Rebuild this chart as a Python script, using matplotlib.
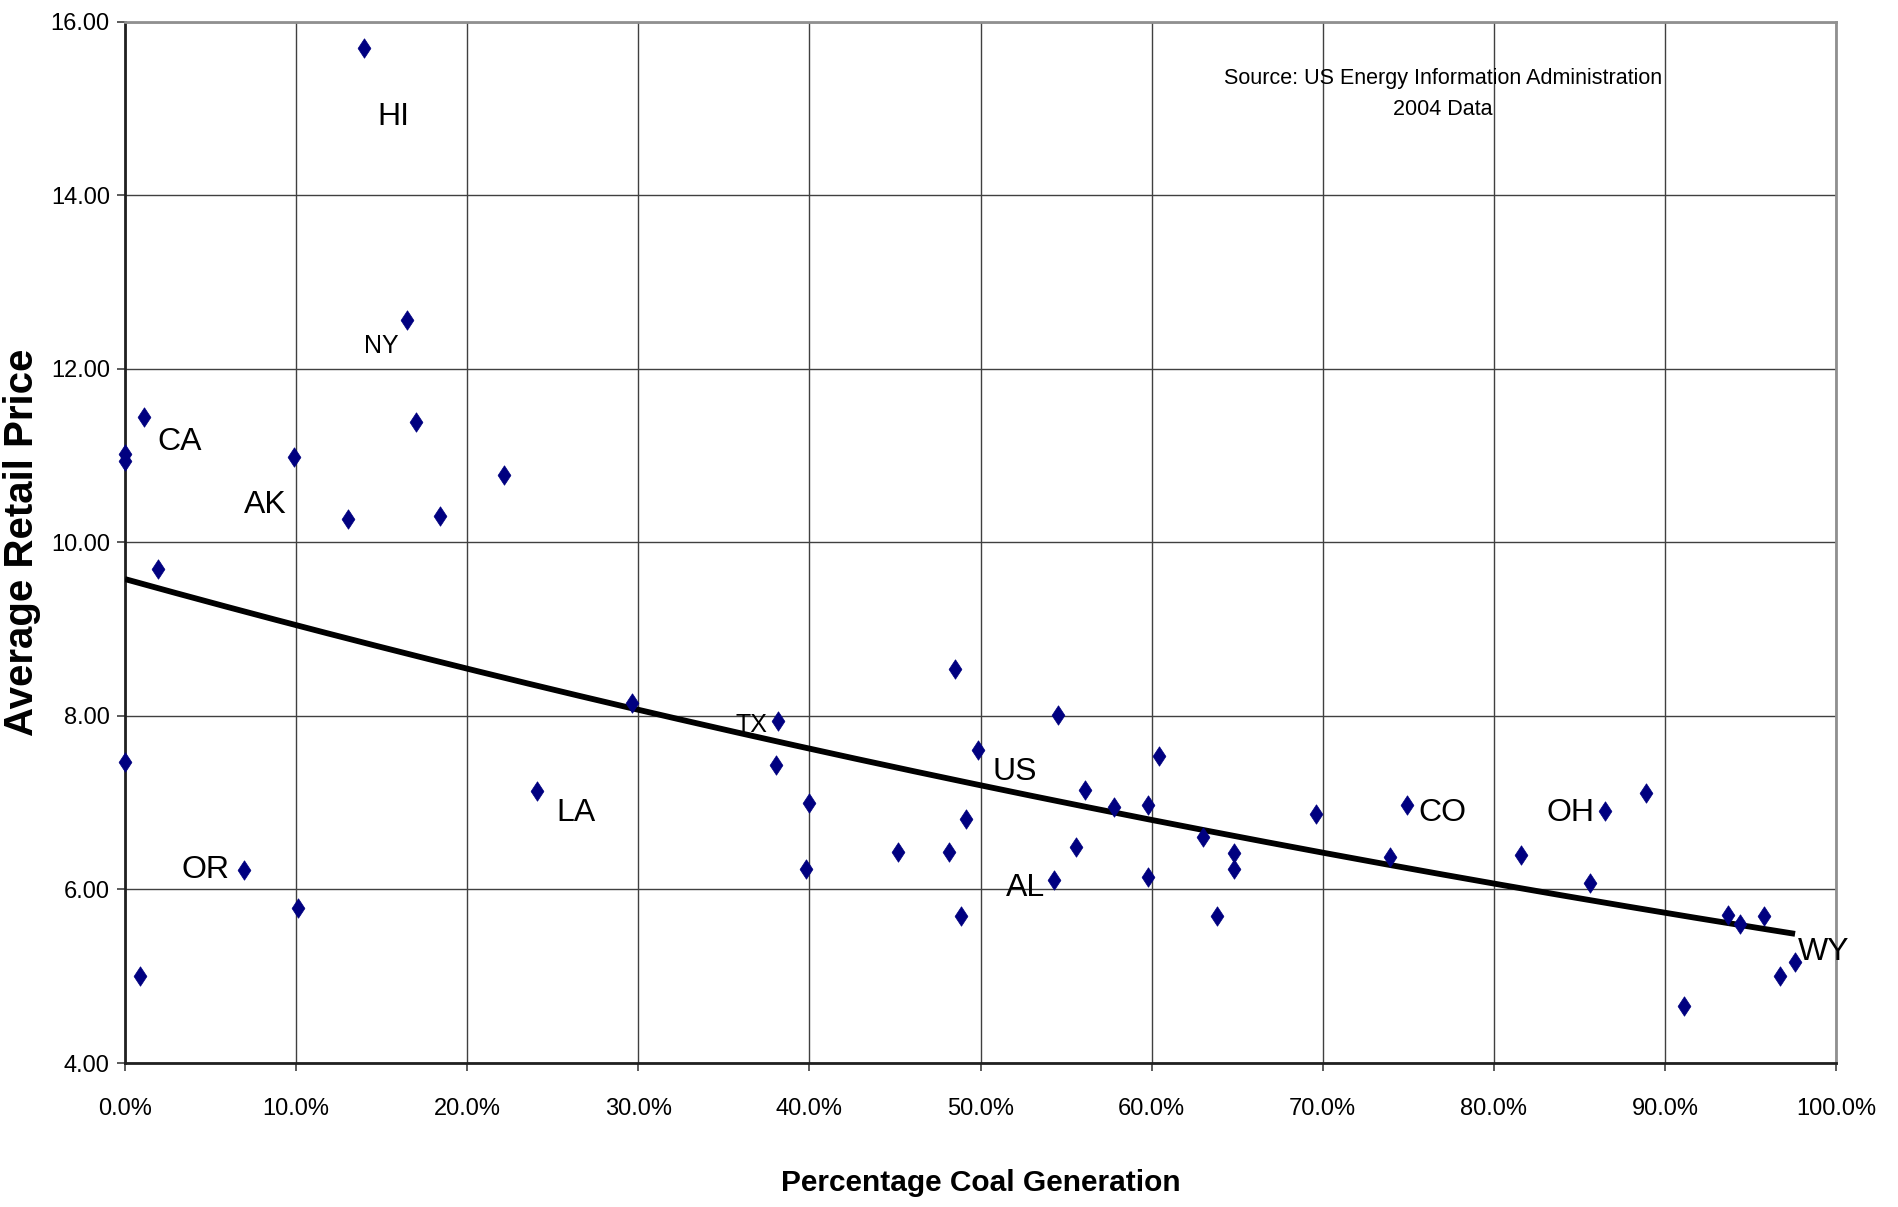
import numpy as np
import matplotlib
matplotlib.use("Agg")
import matplotlib.pyplot as plt
from matplotlib.ticker import FuncFormatter

# percentage coal generation (%) and average retail price (cents/kWh), 2004
coal_pct = [13.95, 16.45, 17.02, 1.12, 0.0, 0.0, 9.88, 22.17, 13.05, 18.4, 1.93,
            0.0, 24.1, 6.93, 10.1, 0.9, 29.6,
            38.17, 38.05, 40.0, 39.77, 45.2, 48.17, 48.5, 49.83, 49.14, 48.84,
            54.5, 56.1, 57.8, 59.8, 55.6, 54.3, 59.8, 60.4, 63.0, 64.8, 64.8, 63.8,
            69.6, 74.9, 73.9, 81.6, 85.6, 86.5, 88.9, 93.7, 94.4, 95.8, 97.6, 96.7, 91.1]
price = [15.70, 12.56, 11.39, 11.45, 11.02, 10.94, 10.98, 10.78, 10.27, 10.31, 9.70,
         7.47, 7.13, 6.23, 5.79, 5.00, 8.15,
         7.94, 7.43, 7.00, 6.24, 6.43, 6.43, 8.54, 7.61, 6.81, 5.70,
         8.01, 7.15, 6.95, 6.97, 6.49, 6.11, 6.14, 7.54, 6.60, 6.42, 6.24, 5.70,
         6.87, 6.97, 6.37, 6.40, 6.08, 6.90, 7.11, 5.71, 5.60, 5.70, 5.17, 5.00, 4.66]

state_labels = ["HI", "NY", "CA", "AK", "LA", "OR", "TX", "US", "AL", "CO", "OH", "WY"]
label_x = [15.7, 15.0, 3.17, 8.17, 26.35, 4.72, 36.6, 52.0, 52.6, 77.0, 84.45, 99.25]
label_y = [14.9, 12.27, 11.16, 10.43, 6.88, 6.22, 7.9, 7.36, 6.02, 6.88, 6.88, 5.28]
small_labels = ["NY", "TX"]

font = ["Liberation Sans", "DejaVu Sans"]
plt.rcParams["font.family"] = font

fig = plt.figure(figsize=(18.98, 12.07), dpi=100)
ax = fig.add_axes([0.0659, 0.1193, 0.9015, 0.8625])

ax.grid(True, color="#404040", linewidth=1.0)
ax.set_axisbelow(True)

x = np.array(coal_pct)
y = np.array(price)

# exponential trendline fitted to the points
b, ln_a = np.polyfit(x, np.log(y), 1)
xf = np.linspace(x.min(), x.max(), 200)
ax.plot(xf, np.exp(ln_a) * np.exp(b * xf), color="black", linewidth=4.2, zorder=3,
        solid_capstyle="butt")

diamond = [(0, 1), (0.66, 0), (0, -1), (-0.66, 0), (0, 1)]
ax.plot(x, y, linestyle="none", marker=diamond, markersize=14,
        color="#000080", markeredgecolor="#000080", markeredgewidth=0.5,
        zorder=4, clip_on=False)

for s, lx, ly in zip(state_labels, label_x, label_y):
    ax.text(lx, ly, s, ha="center", va="center",
            fontsize=18 if s in small_labels else 23, zorder=5)

ax.text(77.0, 15.17, "Source: US Energy Information Administration\n2004 Data",
        ha="center", va="center", multialignment="center",
        fontsize=15.5, linespacing=1.65)

ax.set_xlim(0, 100)
ax.set_ylim(4, 16)
ax.set_xticks(np.arange(0, 101, 10))
ax.set_yticks(np.arange(4, 17, 2))
ax.xaxis.set_major_formatter(FuncFormatter(lambda v, p: f"{v:.1f}%"))
ax.yaxis.set_major_formatter(FuncFormatter(lambda v, p: f"{v:.2f}"))
ax.tick_params(axis="both", direction="out", length=6, width=1.2, color="#404040",
               labelsize=17)
ax.tick_params(axis="x", pad=19)
ax.tick_params(axis="y", pad=5)

for side in ["left", "bottom"]:
    ax.spines[side].set_linewidth(2)
    ax.spines[side].set_color("#202020")
for side in ["top", "right"]:
    ax.spines[side].set_linewidth(2)
    ax.spines[side].set_color("#909090")

ax.set_xlabel("Percentage Coal Generation", fontweight="bold", fontsize=21.5,
              va="center")
ax.xaxis.set_label_coords(0.5, -0.1153)
ax.set_ylabel("Average Retail Price", fontweight="bold", fontsize=29,
              va="center")
ax.yaxis.set_label_coords(-0.0602, 0.5)

fig.savefig("out.png", dpi=100)
